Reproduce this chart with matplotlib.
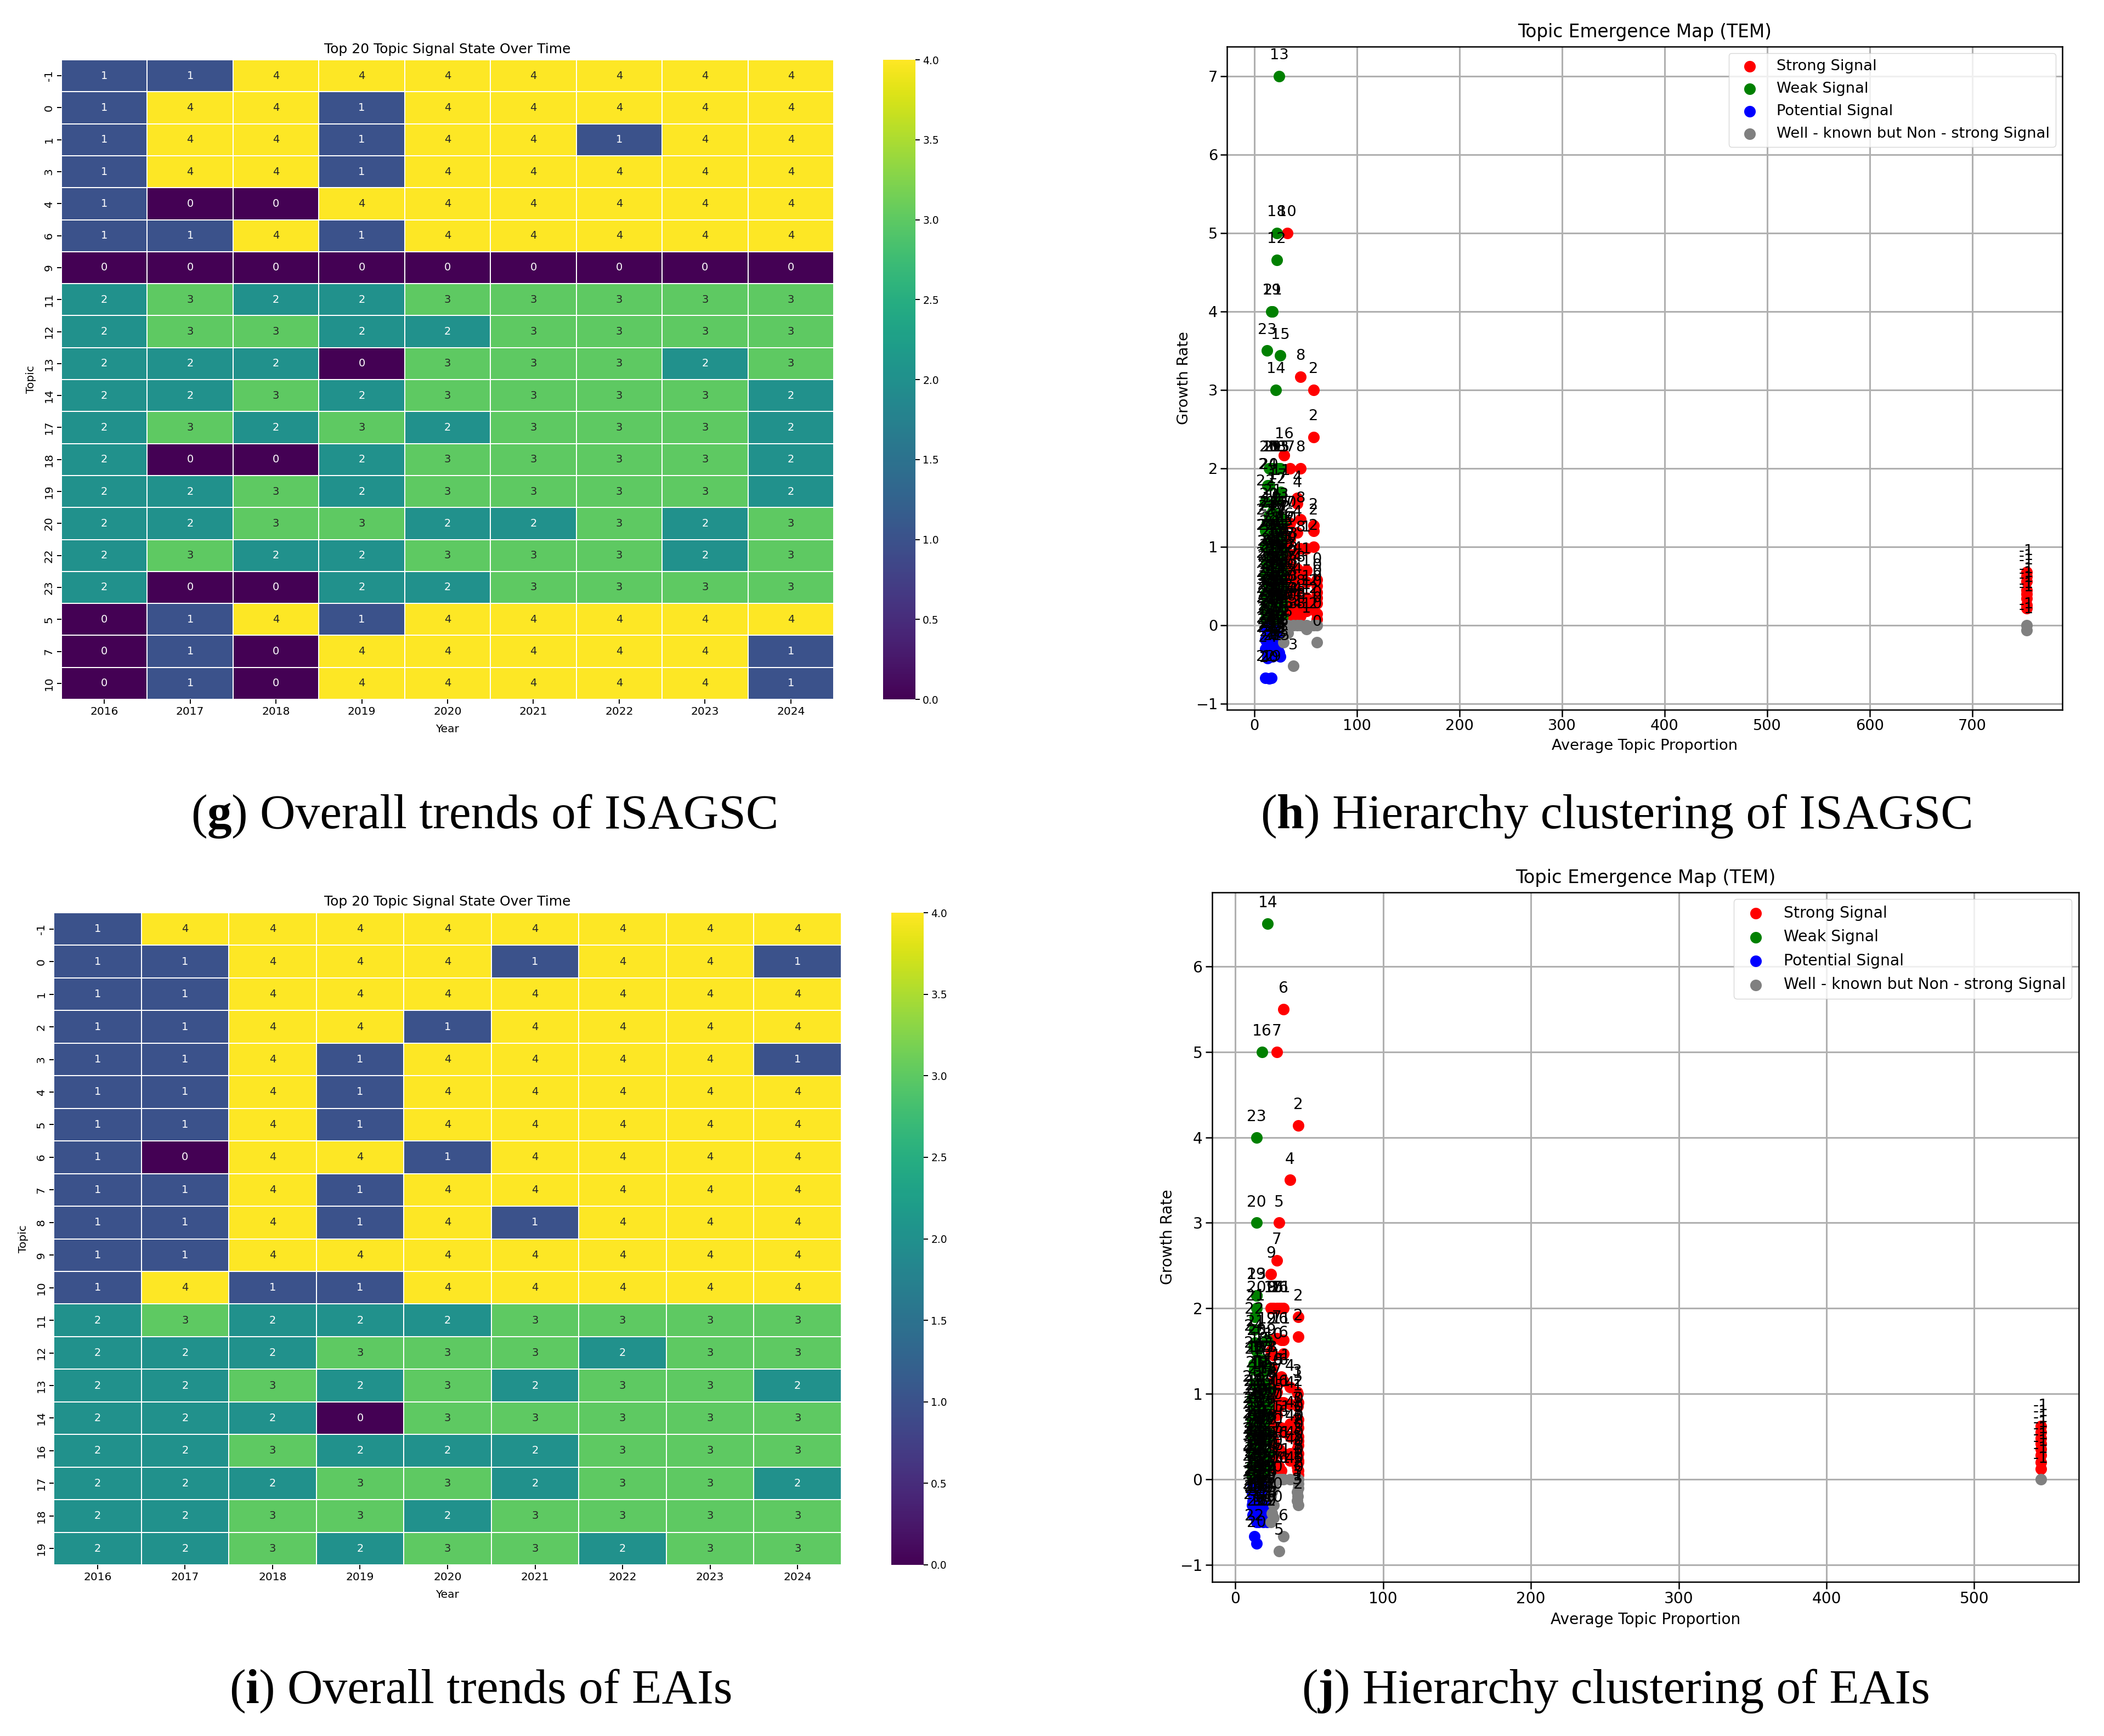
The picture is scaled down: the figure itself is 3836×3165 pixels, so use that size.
import numpy as np
import pandas as pd
import seaborn as sns
import matplotlib
matplotlib.use("Agg")
import matplotlib.pyplot as plt

W, H = 3837, 3165

years = [2016, 2017, 2018, 2019, 2020, 2021, 2022, 2023, 2024]

# heatmap g
g_topics = [-1, 0, 1, 3, 4, 6, 9, 11, 12, 13, 14, 17, 18, 19, 20, 22, 23, 5, 7, 10]
g_states = [
    [1, 1, 4, 4, 4, 4, 4, 4, 4],
    [1, 4, 4, 1, 4, 4, 4, 4, 4],
    [1, 4, 4, 1, 4, 4, 1, 4, 4],
    [1, 4, 4, 1, 4, 4, 4, 4, 4],
    [1, 0, 0, 4, 4, 4, 4, 4, 4],
    [1, 1, 4, 1, 4, 4, 4, 4, 4],
    [0, 0, 0, 0, 0, 0, 0, 0, 0],
    [2, 3, 2, 2, 3, 3, 3, 3, 3],
    [2, 3, 3, 2, 2, 3, 3, 3, 3],
    [2, 2, 2, 0, 3, 3, 3, 2, 3],
    [2, 2, 3, 2, 3, 3, 3, 3, 2],
    [2, 3, 2, 3, 2, 3, 3, 3, 2],
    [2, 0, 0, 2, 3, 3, 3, 3, 2],
    [2, 2, 3, 2, 3, 3, 3, 3, 2],
    [2, 2, 3, 3, 2, 2, 3, 2, 3],
    [2, 3, 2, 2, 3, 3, 3, 2, 3],
    [2, 0, 0, 2, 2, 3, 3, 3, 3],
    [0, 1, 4, 1, 4, 4, 4, 4, 4],
    [0, 1, 0, 4, 4, 4, 4, 4, 1],
    [0, 1, 0, 4, 4, 4, 4, 4, 1],
]

# heatmap i
i_topics = [-1, 0, 1, 2, 3, 4, 5, 6, 7, 8, 9, 10, 11, 12, 13, 14, 16, 17, 18, 19]
i_states = [
    [1, 4, 4, 4, 4, 4, 4, 4, 4],
    [1, 1, 4, 4, 4, 1, 4, 4, 1],
    [1, 1, 4, 4, 4, 4, 4, 4, 4],
    [1, 1, 4, 4, 1, 4, 4, 4, 4],
    [1, 1, 4, 1, 4, 4, 4, 4, 1],
    [1, 1, 4, 1, 4, 4, 4, 4, 4],
    [1, 1, 4, 1, 4, 4, 4, 4, 4],
    [1, 0, 4, 4, 1, 4, 4, 4, 4],
    [1, 1, 4, 1, 4, 4, 4, 4, 4],
    [1, 1, 4, 1, 4, 1, 4, 4, 4],
    [1, 1, 4, 4, 4, 4, 4, 4, 4],
    [1, 4, 1, 1, 4, 4, 4, 4, 4],
    [2, 3, 2, 2, 2, 3, 3, 3, 3],
    [2, 2, 2, 3, 3, 3, 2, 3, 3],
    [2, 2, 3, 2, 3, 2, 3, 3, 2],
    [2, 2, 2, 0, 3, 3, 3, 3, 3],
    [2, 2, 3, 2, 2, 2, 3, 3, 3],
    [2, 2, 2, 3, 3, 2, 3, 3, 2],
    [2, 2, 3, 3, 2, 3, 3, 3, 3],
    [2, 2, 3, 2, 3, 3, 2, 3, 3],
]

# scatter h: topic, average proportion, yearly growth rates
h_topics = [-1, 0, 1, 2, 3, 4, 5, 6, 7, 8, 9, 10, 11, 12, 13, 14, 15, 16, 17, 18, 19, 20, 21, 22, 23, 24, 25, 26, 27, 28, 29]
h_avg = [753, 61, 51, 58, 38, 42, 33, 28.6, 35, 45, 27.5, 32, 26, 22, 24.3, 21, 25.3, 29, 23, 22, 17, 14.5, 18, 11, 12.7, 13, 12, 15.5, 19.5, 16.5, 20]
h_growth = [
    [.68, .62, .56, .45, .40, .34, .26, .22, 0, -.06],
    [.58, .5, .42, .35, .28, .15, .08, -.22, 0],
    [.98, .7, .55, .35, .3, .25, .18, -.05, 0],
    [3, 2.4, 1.27, 1.2, 1.0, .3, .2, 0],
    [.9, .72, .55, .35, .2, -.52, 0],
    [1.62, 1.55, 1.18, .72, .6, .45, .2, .12, 0],
    [1.05, .85, .65, .5, .3, .15, -.1, 0],
    [1.12, .9, .7, .48, .3, .15, -.22, 0],
    [2, 1.3, 1.1, .9, .75, .6, .4, .2, .12],
    [3.17, 2, 1.35, .98, .6, .3, .15, .12, 0],
    [1.3, .95, .7, .5, .3, .1, -.1],
    [5, 1.3, 1.1, .85, .68, .5, .35, .2, .1],
    [1.7, 1.35, 1.1, .85, .6, .35, .15, -.08],
    [4.66, 1.6, 1.2, .95, .7, .45, .2, -.15, -.3],
    [7, 2, 1.4, 1, .8, .55, .3, .1, -.2, -.35],
    [3, 1.3, 1, .75, .5, .3, .1, -.12, -.28],
    [3.44, 2, 1.3, .95, .65, .4, .2, -.05, -.4],
    [2.17, 1.15, .95, .75, .55, .35, .2, .12, 0],
    [1.65, 1.25, .9, .7, .45, .25, .05, -.18, -.32],
    [5, 2, 1.25, .85, .6, .4, .15, -.25, -.38],
    [4, 2, 1.35, 1, .7, .45, .2, -.1, -.25, -.67],
    [2, 1.78, 1.4, 1.05, .75, .5, .25, .05, -.15, -.35, -.68],
    [4, 2, 1.45, 1.05, .8, .55, .3, .1, -.2, -.4],
    [1.57, 1.2, 1.0, .65, .4, .2, .08, -.18, -.3, -.67],
    [3.5, 1.3, 1.0, .6, .3, .15, -.02, -.3],
    [1.78, 1.25, .8, .55, .35, .15, -.08, -.25, -.42],
    [1.0, .8, .62, .42, .25, .12, -.05, -.2],
    [1.3, .92, .72, .52, .33, .18, .04, -.12],
    [1.2, .88, .68, .48, .28, .1, -.06, -.3],
    [1.1, .82, .6, .38, .22, .08, -.1, -.22],
    [1.0, .78, .58, .36, .18, .06, -.14, -.36],
]

# scatter j
j_topics = [-1, 0, 1, 2, 3, 4, 5, 6, 7, 8, 9, 10, 11, 12, 13, 14, 15, 16, 17, 18, 19, 20, 21, 22, 23, 24, 25, 26, 27, 28, 29]
j_avg = [545, 42.7, 42.2, 42.5, 41.8, 37, 29.5, 32.7, 28, 25, 24, 26, 31, 21.5, 20, 22, 19, 18, 17, 16, 14.4, 14.4, 13.5, 13, 14.4, 12.5, 11.5, 15, 18.5, 12, 20.5]
j_growth = [
    [.62, .55, .48, .42, .35, .28, .2, .12, 0],
    [.7, .6, .5, .4, .3, .2, .1, 0, -.1],
    [1.0, .85, .65, .5, .25, .1, 0, -.2],
    [4.14, 1.9, 1.67, .9, .45, .22, .05, -.05, -.3],
    [1.02, .7, .55, .35, .15, -.15, -.25],
    [3.5, 1.08, .88, .65, .5, .3, .22, 0],
    [3, 2, 1.15, .85, .6, .35, .15, 0, -.84],
    [5.5, 2, 1.63, 1.47, 1.15, .9, .55, .3, 0, -.67],
    [5, 2.56, 2, 1.65, 1.02, .75, .35, .1, 0],
    [2, 1.3, 1.0, .8, .5, .25, .08, -.15, -.4],
    [2.4, 2, 1.63, 1.5, .95, .65, .3, 0, -.2, -.5],
    [2, 1.45, 1.15, .75, .45, .2, -.1, -.3, -.45],
    [2, 1.63, 1.2, .9, .6, .3, .1, 0],
    [1.63, 1.3, 1.05, .75, .45, .2, -.08, -.3, -.5],
    [1.3, .95, .7, .45, .2, -.05, -.3],
    [6.5, 1.05, .85, .55, .3, .15, -.15, -.4],
    [1.4, 1.12, .8, .55, .3, .12, -.1, -.28, -.5],
    [5, 1.25, .9, .65, .42, .2, -.05, -.22, -.45],
    [1.3, 1.1, .75, .5, .3, .1, -.12, -.35],
    [1.4, 1.12, .8, .5, .25, .05, -.18, -.33, -.5],
    [2.15, 1.3, .9, .6, .32, .15, -.1, -.32],
    [3, 2, 1.5, .85, .55, .25, .05, -.25, -.75],
    [1.9, 1.6, 1.12, .7, .4, .2, -.05, -.3],
    [1.75, 1.28, .85, .6, .35, .12, -.15, -.35, -.67],
    [4, 2.15, 1.5, .75, .45, .22, .02, -.2, -.5],
    [1.55, 1.35, .8, .5, .3, .08, -.12, -.33],
    [.95, .7, .52, .34, .16, .03, -.16, -.3],
    [1.05, .78, .58, .38, .22, .07, -.08, -.24],
    [.98, .72, .46, .28, .1, -.03, -.2, -.38],
    [.9, .65, .42, .26, .14, -.06, -.26, -.42],
    [.92, .68, .48, .24, .06, -.1, -.24],
]

signal_names = ["Strong Signal", "Weak Signal", "Potential Signal", "Well - known but Non - strong Signal"]
signal_colors = ["red", "green", "blue", "gray"]


def rect(x0, y0, x1, y1):
    return [x0 / W, 1 - y1 / H, (x1 - x0) / W, (y1 - y0) / H]


def draw_heatmap(box, cbox, topics, states):
    ax = fig.add_axes(rect(*box))
    cax = fig.add_axes(rect(*cbox))
    df = pd.DataFrame(states, index=topics, columns=years)
    sns.heatmap(df, annot=True, fmt="d", cmap="viridis", linewidths=1.4, linecolor="white",
                ax=ax, cbar_ax=cax, vmin=0, vmax=4, annot_kws={"fontsize": 14})
    ax.set_xlabel("Year", fontsize=14.5, labelpad=9)
    ax.set_ylabel("Topic", fontsize=14.5, labelpad=10)
    ax.tick_params(axis="both", labelsize=14.5, length=6, width=1.4)
    cax.tick_params(labelsize=13.5, length=6, width=1.4)
    cax.set_yticks(np.arange(0, 4.5, 0.5))
    ax.set_title("Top 20 Topic Signal State Over Time", fontsize=18, pad=9)


def draw_tem(box, topics, avg, growth, cut, xlim, ylim, xticks, yticks, fs, legend_fs):
    ax = fig.add_axes(rect(*box))
    xs = np.concatenate([[a] * len(g) for a, g in zip(avg, growth)])
    ys = np.concatenate(growth)
    labels = np.concatenate([[t] * len(g) for t, g in zip(topics, growth)])
    groups = [
        (xs >= cut) & (ys > 0),
        (xs < cut) & (ys > 0),
        (xs < cut) & (ys < 0),
        ((xs >= cut) & (ys <= 0)) | ((xs < cut) & (ys == 0)),
    ]
    for mask, name, color in zip(groups, signal_names, signal_colors):
        ax.scatter(xs[mask], ys[mask], s=230, color=color, label=name, linewidths=0)
    for x, y, t in zip(xs, ys, labels):
        ax.annotate(str(t), (x, y), xytext=(0, 27), textcoords="offset points",
                    ha="center", va="center", fontsize=fs)
    ax.set_xlim(*xlim)
    ax.set_ylim(*ylim)
    ax.set_xticks(xticks)
    ax.set_yticks(yticks)
    ax.grid(True, color="#b0b0b0", lw=2.2)
    ax.set_axisbelow(True)
    ax.tick_params(labelsize=fs, length=9, width=1.8)
    for s in ax.spines.values():
        s.set_linewidth(1.8)
    ax.set_xlabel("Average Topic Proportion", fontsize=fs, labelpad=7)
    ax.set_ylabel("Growth Rate", fontsize=fs, labelpad=6)
    ax.set_title("Topic Emergence Map (TEM)", fontsize=fs + 4, pad=12)
    ax.legend(loc="upper right", fontsize=legend_fs, borderaxespad=0.45, labelspacing=0.55)


def caption(x, y, letter, rest):
    # bold letter inside plain text, placed piece by piece
    r = fig.canvas.get_renderer()
    for text, weight in [("(", "normal"), (letter, "bold"), (") " + rest, "normal")]:
        t = fig.text(x / W, 1 - y / H, text, fontsize=64.4, family="Liberation Serif", weight=weight, va="baseline")
        x = t.get_window_extent(r).x1


fig = plt.figure(figsize=(W / 100, H / 100), dpi=100)

draw_heatmap((112, 109, 1520, 1275), (1610, 109, 1669, 1275), g_topics, g_states)
draw_heatmap((98, 1664, 1534, 2853), (1625, 1664, 1684, 2853), i_topics, i_states)

draw_tem((2237.5, 84.6, 3760, 1294), h_topics, h_avg, h_growth, 28.5,
         (-26.3, 787.9), (-1.077, 7.38), range(0, 701, 100), range(-1, 8), 19.6, 19.6)
draw_tem((2209.8, 1626.8, 3790, 2884), j_topics, j_avg, j_growth, 23,
         (-15.7, 570.7), (-1.2, 6.866), range(0, 501, 100), range(-1, 7), 20.2, 20.3)

caption(348, 1510, "g", "Overall trends of ISAGSC")
caption(2298, 1510, "h", "Hierarchy clustering of ISAGSC")
caption(418, 3105, "i", "Overall trends of EAIs")
caption(2373, 3105, "j", "Hierarchy clustering of EAIs")

fig.savefig("out.png", dpi=100)
